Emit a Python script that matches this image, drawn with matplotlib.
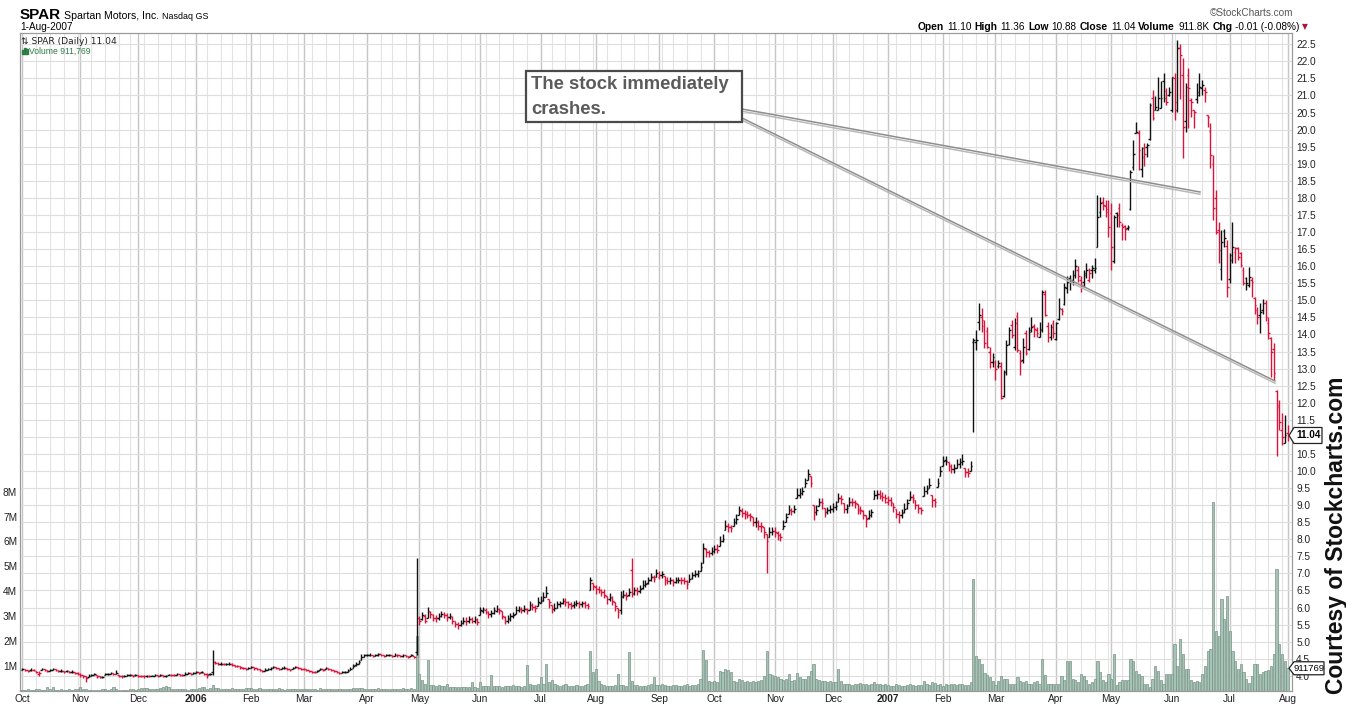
import numpy as np
import pandas as pd
import matplotlib
matplotlib.use("Agg")
import matplotlib.pyplot as plt
from matplotlib.collections import LineCollection
from matplotlib.patches import Polygon, Rectangle

W, H = 1346, 706

# month labels on the x axis
month_labels = ["Oct", "Nov", "Dec", "2006", "Feb", "Mar", "Apr", "May", "Jun", "Jul", "Aug", "Sep",
                "Oct", "Nov", "Dec", "2007", "Feb", "Mar", "Apr", "May", "Jun", "Jul", "Aug"]

holidays = ["2005-11-24", "2005-12-26", "2006-01-02", "2006-01-16", "2006-02-20", "2006-04-14",
            "2006-05-29", "2006-07-04", "2006-09-04", "2006-11-23", "2006-12-25", "2007-01-01",
            "2007-01-02", "2007-01-15", "2007-02-19", "2007-04-06", "2007-05-28", "2007-07-04"]

# daily closes, one row per month
close_m = [
    [4.20, 4.17, 4.15, 4.18, 4.16, 4.12, 4.08, 4.20, 4.18, 4.15, 4.17, 4.20, 4.16, 4.14, 4.15, 4.12, 4.14, 4.10, 4.12, 4.08, 4.05],
    [4.02, 3.98, 3.95, 4.00, 4.02, 4.05, 3.98, 3.96, 3.97, 4.05, 4.06, 4.07, 4.05, 4.09, 4.00, 3.98, 4.00, 4.01, 4.02, 4.00, 4.03],
    [4.00, 3.99, 3.98, 4.00, 3.99, 4.00, 4.01, 4.00, 4.02, 3.99, 4.00, 4.03, 4.02, 4.01, 4.04, 4.03, 4.02, 4.06, 4.07, 4.05, 4.08],
    [4.10, 4.09, 4.11, 4.05, 4.03, 4.06, 4.40, 4.38, 4.35, 4.36, 4.34, 4.35, 4.36, 4.33, 4.30, 4.28, 4.25, 4.22, 4.20, 4.23],
    [4.25, 4.22, 4.20, 4.18, 4.15, 4.18, 4.20, 4.22, 4.25, 4.23, 4.20, 4.22, 4.24, 4.20, 4.18, 4.22, 4.25, 4.23, 4.21],
    [4.20, 4.18, 4.15, 4.12, 4.10, 4.13, 4.20, 4.18, 4.22, 4.20, 4.18, 4.15, 4.10, 4.08, 4.10, 4.12, 4.15, 4.20, 4.30, 4.35, 4.40, 4.55, 4.60],
    [4.60, 4.62, 4.58, 4.60, 4.63, 4.60, 4.58, 4.60, 4.61, 4.59, 4.62, 4.60, 4.57, 4.60, 4.58, 4.55, 4.60, 4.55, 5.70],
    [5.60, 5.78, 5.62, 5.90, 5.80, 5.70, 5.68, 5.75, 5.80, 5.78, 5.72, 5.75, 5.60, 5.52, 5.48, 5.55, 5.62, 5.60, 5.66, 5.62, 5.66, 5.58],
    [5.92, 5.95, 5.88, 5.80, 5.85, 5.92, 5.95, 5.92, 5.75, 5.62, 5.68, 5.75, 5.78, 5.92, 5.95, 5.93, 5.97, 5.92, 6.08, 6.02, 6.00, 6.15],
    [6.22, 6.30, 6.42, 6.15, 5.95, 5.98, 6.10, 6.12, 6.18, 6.15, 6.10, 6.05, 6.10, 6.12, 6.10, 6.12, 6.08, 6.05, 6.80, 6.62],
    [6.55, 6.52, 6.45, 6.38, 6.25, 6.30, 6.20, 6.05, 5.88, 6.32, 6.38, 6.35, 6.45, 6.40, 6.50, 6.48, 6.55, 6.65, 6.70, 6.80, 6.88, 6.85, 7.00],
    [6.95, 6.98, 6.82, 6.78, 6.80, 6.75, 6.80, 6.82, 6.80, 6.78, 6.70, 6.85, 6.95, 6.98, 7.00, 7.18, 7.75, 7.62, 7.60, 7.65],
    [7.72, 7.70, 7.95, 8.02, 8.40, 8.35, 8.32, 8.50, 8.58, 8.85, 8.78, 8.75, 8.72, 8.68, 8.50, 8.52, 8.40, 8.38, 8.20, 7.95, 8.22, 8.25],
    [8.20, 8.12, 8.08, 8.40, 8.65, 8.85, 8.82, 8.88, 9.30, 9.35, 9.40, 9.65, 9.90, 9.65, 8.80, 8.85, 9.10, 9.05, 8.80, 8.85, 8.88],
    [8.95, 8.98, 9.20, 9.18, 8.90, 8.92, 9.10, 9.08, 9.05, 8.88, 8.85, 8.70, 8.60, 8.72, 8.80, 9.30, 9.32, 9.28, 9.25, 9.20],
    [9.15, 9.10, 8.95, 8.75, 8.72, 8.78, 8.90, 9.05, 9.25, 9.20, 9.00, 8.92, 8.85, 9.40, 9.48, 9.60, 9.15, 9.10, 9.65, 10.00],
    [10.30, 10.30, 10.15, 10.05, 10.08, 10.20, 10.25, 10.30, 9.98, 9.95, 10.15, 13.84, 13.84, 14.57, 14.42, 13.74, 13.64, 13.20, 13.35],
    [12.98, 13.15, 12.13, 12.91, 13.69, 14.13, 13.98, 14.33, 13.54, 13.22, 13.64, 13.45, 14.08, 14.23, 14.15, 14.05, 14.13, 15.25, 14.57, 14.05, 14.23, 14.03],
    [14.33, 14.76, 14.70, 15.40, 15.55, 15.55, 15.75, 16.00, 15.70, 15.45, 15.75, 15.89, 15.80, 15.94, 15.94, 17.45, 17.84, 17.79, 17.60, 17.16],
    [16.57, 17.45, 17.50, 17.30, 17.16, 17.10, 17.16, 18.77, 19.30, 19.94, 19.40, 19.45, 19.30, 19.55, 20.72, 20.33, 20.67, 20.92, 20.92, 20.92, 20.82, 21.11],
    [21.53, 20.82, 22.38, 22.20, 20.09, 21.26, 21.21, 20.82, 20.53, 21.11, 21.26, 21.31, 21.11, 20.38, 19.26, 17.69, 17.00, 16.47, 16.72, 16.82, 15.40],
    [16.33, 16.57, 16.52, 16.28, 16.03, 15.50, 15.50, 15.69, 15.55, 14.87, 14.52, 14.67, 14.91, 14.52, 14.03, 13.49, 12.88, 11.88, 11.44, 11.00, 11.05],
    [11.04],
]

# high above close, in cents
high_m = [
    [4, 3, 3, 4, 3, 3, 5, 4, 3, 3, 4, 3, 3, 3, 4, 3, 3, 3, 4, 3, 5],
    [5, 4, 4, 5, 4, 4, 3, 3, 3, 4, 3, 3, 4, 8, 3, 3, 3, 3, 3, 3, 3],
    [3, 2, 3, 3, 2, 3, 3, 2, 3, 3, 2, 3, 4, 3, 3, 2, 3, 4, 3, 3, 4],
    [3, 3, 3, 4, 4, 3, 36, 5, 4, 3, 4, 3, 3, 4, 3, 3, 4, 3, 3, 4],
    [3, 3, 4, 3, 3, 4, 3, 3, 4, 3, 3, 3, 4, 3, 3, 4, 3, 3, 3],
    [3, 3, 3, 3, 4, 3, 4, 3, 4, 3, 3, 3, 4, 3, 3, 3, 4, 5, 6, 5, 6, 8, 5],
    [4, 4, 3, 4, 5, 3, 4, 3, 4, 3, 5, 3, 3, 4, 4, 3, 4, 4, 175],
    [15, 10, 20, 12, 10, 12, 10, 8, 10, 9, 12, 10, 14, 10, 10, 9, 10, 12, 8, 10, 9, 10],
    [10, 8, 12, 10, 8, 10, 12, 8, 15, 12, 10, 8, 10, 12, 10, 8, 10, 8, 12, 10, 8, 15],
    [12, 15, 20, 10, 12, 15, 10, 8, 10, 12, 8, 10, 8, 10, 8, 8, 10, 8, 10, 10],
    [10, 12, 10, 15, 10, 12, 15, 10, 10, 15, 12, 10, 12, 105, 10, 12, 10, 15, 12, 10, 12, 10, 12],
    [12, 10, 10, 12, 8, 10, 10, 8, 10, 12, 10, 12, 10, 12, 10, 15, 15, 12, 10, 12],
    [12, 15, 15, 12, 15, 12, 10, 12, 15, 12, 15, 10, 12, 10, 15, 12, 15, 12, 15, 20, 15, 12],
    [15, 12, 10, 15, 12, 15, 10, 12, 20, 15, 12, 15, 15, 20, 20, 15, 12, 15, 12, 10, 12],
    [12, 15, 15, 12, 15, 12, 15, 12, 10, 15, 12, 15, 12, 15, 10, 15, 12, 15, 12, 12],
    [12, 15, 12, 15, 12, 10, 15, 12, 15, 12, 15, 12, 10, 15, 12, 20, 15, 12, 15, 15],
    [15, 15, 12, 15, 12, 15, 12, 20, 10, 15, 15, 6, 29, 34, 34, 68, 59, 44, 10],
    [27, 10, 107, 5, 15, 10, 44, 14, 113, 32, 25, 68, 15, 29, 17, 18, 24, 5, 73, 32, 9, 39],
    [4, 30, 6, 10, 15, 20, 15, 20, 30, 25, 15, 19, 15, 9, 29, 63, 20, 25, 34, 78],
    [127, 5, 10, 54, 10, 11, 5, 5, 40, 29, 59, 5, 30, 5, 5, 83, 30, 63, 49, 73, 39, 15],
    [2, 83, 25, 30, 200, 10, 59, 10, 5, 25, 39, 14, 15, 5, 92, 157, 123, 83, 34, 28, 137],
    [5, 73, 5, 29, 39, 48, 19, 29, 14, 24, 28, 26, 14, 48, 47, 44, 86, 49, 64, 69, 59],
    [32],
]

# low below close, in cents
low_m = [
    [4, 3, 3, 3, 3, 4, 10, 3, 3, 3, 3, 4, 3, 3, 3, 3, 3, 3, 3, 3, 4],
    [6, 4, 12, 4, 3, 3, 3, 3, 3, 4, 3, 3, 3, 4, 4, 3, 3, 3, 3, 3, 3],
    [3, 2, 3, 3, 3, 2, 3, 3, 2, 3, 3, 2, 3, 3, 3, 3, 2, 3, 3, 4, 3],
    [3, 3, 3, 4, 10, 3, 38, 4, 3, 3, 3, 3, 4, 3, 3, 3, 4, 3, 3, 3],
    [3, 4, 3, 3, 5, 3, 3, 4, 3, 3, 4, 3, 3, 3, 5, 3, 3, 3, 3],
    [3, 3, 4, 4, 3, 3, 3, 3, 3, 3, 4, 3, 3, 3, 3, 3, 3, 4, 6, 5, 5, 10, 5],
    [3, 4, 4, 3, 4, 3, 4, 3, 3, 4, 3, 4, 3, 4, 3, 4, 3, 4, 110],
    [10, 15, 8, 20, 12, 10, 10, 12, 8, 10, 12, 10, 8, 10, 12, 8, 10, 10, 10, 8, 10, 8],
    [15, 10, 8, 10, 12, 10, 8, 10, 8, 10, 12, 15, 10, 10, 8, 10, 10, 12, 15, 10, 12, 10],
    [10, 12, 10, 15, 10, 8, 12, 10, 8, 10, 12, 8, 10, 8, 10, 10, 8, 10, 30, 10],
    [15, 10, 12, 10, 15, 10, 12, 15, 20, 50, 10, 12, 10, 10, 12, 10, 12, 10, 10, 12, 10, 10, 10],
    [10, 12, 15, 10, 10, 12, 8, 10, 10, 8, 15, 10, 12, 10, 10, 12, 45, 15, 12, 10],
    [12, 10, 15, 10, 12, 15, 12, 10, 12, 15, 12, 15, 10, 15, 12, 15, 12, 18, 15, 95, 15, 12],
    [12, 15, 12, 10, 15, 12, 10, 12, 10, 15, 10, 12, 15, 12, 25, 15, 12, 15, 15, 12, 10],
    [15, 12, 10, 15, 12, 15, 12, 10, 12, 15, 12, 10, 25, 12, 15, 12, 15, 10, 12, 15],
    [15, 12, 15, 12, 25, 15, 12, 15, 10, 15, 12, 15, 12, 12, 15, 10, 20, 15, 12, 15],
    [15, 12, 15, 12, 15, 10, 15, 12, 15, 12, 15, 269, 30, 44, 34, 15, 4, 19, 29],
    [32, 14, 3, 73, 88, 44, 9, 79, 5, 41, 49, 5, 54, 15, 22, 12, 20, 117, 2, 26, 39, 14],
    [49, 34, 13, 54, 35, 25, 30, 35, 15, 20, 35, 25, 25, 30, 15, 88, 40, 15, 15, 30],
    [68, 137, 34, 14, 39, 33, 10, 112, 48, 5, 58, 83, 38, 35, 102, 5, 9, 34, 30, 10, 10, 14],
    [100, 54, 185, 130, 93, 132, 117, 44, 49, 34, 29, 29, 29, 29, 39, 34, 5, 39, 113, 25, 30],
    [83, 49, 44, 10, 5, 5, 20, 29, 45, 26, 22, 62, 31, 12, 15, 73, 22, 143, 24, 24, 24],
    [16],
]

# open minus close, in cents
open_m = [
    [-2, 3, 2, -2, 2, 3, -4, -8, 2, 2, -2, -3, 3, 2, -1, 2, -1, 3, -2, 3, 2],
    [3, 4, 3, -4, -2, -3, 5, 2, -1, -6, -1, -1, 2, -3, 6, 2, -2, -1, -1, 2, -2],
    [2, 1, 2, -2, 1, -1, -1, 1, -2, 2, -1, -3, 1, 1, -2, 1, 1, -3, -1, 2, -2],
    [-2, 1, -1, 4, 2, -2, -30, 2, 3, -1, 2, -1, -1, 2, 3, 2, 3, 2, 2, -2],
    [-2, 3, 2, 2, 3, -3, -2, -2, -3, 2, 3, -2, -2, 4, 2, -4, -3, 2, 2],
    [1, 2, 3, 3, 2, -3, -5, 2, -4, 2, 2, 3, 4, 2, -2, -2, -3, -4, -8, -4, -4, -12, -4],
    [1, -2, 4, -2, -3, 3, 2, -2, -1, 2, -3, 2, 3, -3, 2, 3, -4, 4, -100],
    [10, -12, 12, -20, 8, 8, 2, -6, -5, 2, 6, -3, 12, 8, 5, -6, -6, 2, -5, 4, -4, 6],
    [-25, -4, 6, 8, -4, -8, -4, 3, 15, 10, -6, -8, -3, -12, -3, 2, -4, 4, -14, 5, 2, -12],
    [-8, -10, -12, 18, 15, -3, -10, -2, -5, 3, 5, 5, -4, -2, 2, -2, 4, 3, -60, 12],
    [5, 3, 6, 8, 10, -4, 8, 12, 15, -40, -5, 3, -8, 70, -8, 2, -6, -8, -5, -8, -6, 3, -12],
    [-5, -3, 14, 4, -2, 5, -4, -2, 2, 2, 8, -14, -8, -3, -2, -15, -45, 10, 2, -4],
    [-5, 2, -20, -8, -30, 5, 3, -15, -8, -22, 6, 3, 3, 4, 15, -2, 10, 2, 15, 20, -25, -3],
    [5, 6, 4, -30, -20, -18, 3, -5, -35, -5, -5, -20, -22, 20, 70, -5, -22, 4, 20, -4, -2],
    [-5, -3, -20, 2, 25, -2, -15, 2, 3, 15, 2, 12, 10, -10, -8, -45, -2, 4, 3, 5],
    [-5, 5, 12, 18, 3, -6, -10, -14, -18, 5, 18, 8, 6, -50, -8, -10, 40, 5, -50, -30],
    [-25, 2, 12, 10, -3, -10, -5, -5, 25, 3, -20, -5, -5, -20, 8, 50, 45, 30, -15],
    [20, -8, 95, -70, -80, -40, 30, -70, 100, 25, -40, 60, -50, -10, 10, 8, -20, -110, 60, 20, -30, 30],
    [-45, -30, 5, -50, -20, 10, -15, -25, 20, 15, -20, -10, -20, -5, -5, -150, -25, 10, 15, 50],
    [100, -130, 5, 40, 5, 8, -4, -110, -40, -5, 50, -60, -10, -5, -100, 60, -20, -40, -30, 50, 30, -10],
    [-95, 70, -180, 20, 150, -100, 40, 5, 5, -20, -25, -10, 5, 5, 70, 130, 100, 60, -80, 20, 120],
    [-70, -40, -10, 25, 35, 40, 15, -25, 5, 20, 20, -10, -20, 40, 30, 40, 70, 45, 50, 20, -30],
    [6],
]

# daily volume, thousands of shares
vol_m = [
    [60, 50, 70, 60, 50, 90, 80, 60, 60, 170, 80, 150, 60, 60, 70, 60, 50, 70, 60, 80, 90],
    [150, 90, 80, 60, 50, 60, 50, 60, 80, 70, 60, 90, 160, 70, 50, 60, 50, 60, 70, 80, 60],
    [90, 110, 120, 110, 90, 100, 70, 80, 120, 180, 190, 150, 90, 80, 100, 70, 80, 90, 60, 70, 80],
    [100, 130, 150, 170, 90, 110, 230, 140, 110, 100, 90, 70, 80, 110, 100, 90, 80, 70, 110, 130],
    [120, 100, 90, 110, 80, 70, 90, 100, 80, 70, 110, 90, 60, 70, 90, 100, 70, 80, 90],
    [80, 70, 80, 90, 70, 60, 110, 70, 80, 70, 90, 80, 70, 80, 70, 90, 80, 100, 140, 120, 110, 130, 90],
    [90, 80, 70, 100, 110, 70, 90, 80, 90, 70, 100, 80, 70, 120, 90, 80, 110, 100, 2200],
    [700, 450, 300, 1250, 250, 230, 200, 250, 220, 200, 300, 180, 170, 160, 150, 180, 150, 170, 160, 380, 150, 140],
    [380, 200, 210, 190, 640, 220, 200, 190, 180, 200, 210, 190, 230, 220, 200, 180, 210, 1050, 280, 230, 250, 300],
    [580, 300, 1100, 350, 450, 280, 230, 220, 250, 300, 200, 210, 190, 230, 220, 200, 250, 300, 1620, 780],
    [900, 400, 300, 250, 200, 220, 210, 230, 700, 230, 250, 210, 1550, 400, 250, 230, 220, 200, 210, 240, 300, 580, 230],
    [250, 300, 250, 220, 210, 230, 250, 200, 210, 230, 300, 220, 250, 260, 280, 500, 1650, 1250, 400, 350],
    [400, 350, 800, 750, 900, 850, 780, 400, 350, 500, 450, 380, 400, 350, 420, 380, 400, 450, 600, 1600, 700, 650],
    [600, 550, 500, 450, 500, 700, 400, 450, 710, 550, 500, 500, 600, 800, 1100, 500, 450, 400, 400, 350, 400],
    [350, 350, 900, 400, 300, 280, 300, 260, 280, 300, 320, 280, 300, 260, 280, 350, 300, 270, 250, 280],
    [250, 220, 200, 300, 250, 220, 200, 260, 280, 240, 220, 250, 230, 400, 300, 260, 350, 320, 260, 300],
    [220, 300, 250, 280, 300, 250, 280, 300, 250, 260, 350, 4500, 1400, 1300, 1100, 720, 640, 580, 400],
    [250, 400, 600, 500, 500, 280, 280, 300, 580, 400, 350, 400, 300, 280, 350, 400, 300, 1300, 640, 300, 280, 280],
    [280, 300, 600, 450, 1200, 1200, 500, 450, 350, 700, 600, 450, 280, 350, 500, 1200, 780, 450, 350, 700],
    [500, 1500, 250, 350, 450, 450, 450, 1300, 1200, 800, 700, 600, 280, 300, 150, 500, 1000, 800, 450, 280, 700, 700],
    [700, 1900, 1000, 2100, 1500, 900, 900, 450, 350, 400, 350, 700, 1000, 1600, 1700, 7600, 2400, 2200, 3700, 2900, 3800],
    [2400, 1600, 1200, 900, 1100, 750, 500, 340, 600, 1100, 1100, 700, 750, 800, 850, 1000, 1500, 4900, 1900, 1500, 1200],
    [912],
]

for name, rows in [("high", high_m), ("low", low_m), ("open", open_m), ("vol", vol_m)]:
    for k, (a, b) in enumerate(zip(close_m, rows)):
        assert len(a) == len(b), (name, k, len(a), len(b))

close = np.array([v for m in close_m for v in m])
high = close + np.array([v for m in high_m for v in m]) / 100.0
low = close - np.array([v for m in low_m for v in m]) / 100.0
opn = np.clip(close + np.array([v for m in open_m for v in m]) / 100.0, low, high)
vol = np.array([v for m in vol_m for v in m]) * 1000.0
n = len(close)
xs = np.arange(n)

dates = pd.bdate_range("2005-10-03", "2007-08-01")
dates = dates[~dates.isin(pd.to_datetime(holidays))]
assert len(dates) == n, (len(dates), n)

month_starts = np.cumsum([0] + [len(m) for m in close_m[:-1]])
week_starts = [i for i in range(n) if i == 0 or dates[i].weekday() < dates[i - 1].weekday()]

PMIN, PMAX = 3.555, 22.83
VMAX = 26.4e6
XMIN, XMAX = -0.9, 460.6

fig = plt.figure(figsize=(W / 100, H / 100), dpi=100)
fig.patch.set_facecolor("white")
ax_v = fig.add_axes([20 / W, (H - 691) / H, (1292 - 20) / W, (691 - 33) / H])
ax_v.set_xlim(XMIN, XMAX)
ax_v.set_ylim(0, VMAX)

# grid: weekly verticals, monthly darker, price levels horizontally
for i in week_starts:
    ax_v.axvline(i, color="#e3e3e3", lw=0.8, zorder=0)
for i in month_starts:
    ax_v.axvline(i, color="#c6c6c6", lw=1.0, zorder=0)
for p in np.arange(4.0, 22.51, 0.5):
    ax_v.axhline((p - PMIN) / (PMAX - PMIN) * VMAX, color="#dedede", lw=0.8, zorder=0)

ax_v.bar(xs, vol, width=0.8, color="#a6c4b6", edgecolor="#789486", linewidth=0.5, zorder=2)

ax_v.set_yticks(np.arange(1, 9) * 1e6)
ax_v.set_yticklabels([f"{k}M" for k in range(1, 9)])
ax_v.set_xticks(month_starts)
ax_v.set_xticklabels(month_labels)
for lab in ax_v.get_xticklabels():
    if lab.get_text() in ("2006", "2007"):
        lab.set_fontweight("bold")
ax_v.tick_params(axis="both", length=0, labelsize=7.3, colors="#222222", pad=2)
for lab in ax_v.get_xticklabels() + ax_v.get_yticklabels():
    lab.set_fontfamily("Liberation Sans")

ax_p = ax_v.twinx()
ax_p.set_ylim(PMIN, PMAX)
ax_p.set_xlim(XMIN, XMAX)
ax_p.yaxis.tick_right()
price_ticks = np.arange(4.0, 22.51, 0.5)
ax_p.set_yticks(price_ticks)
# the 11.0 level sits under the last-price marker
ax_p.set_yticklabels(["" if abs(p - 11.0) < 1e-6 else f"{p:.1f}" for p in price_ticks])
ax_p.tick_params(axis="y", length=0, labelsize=7.3, colors="#222222", pad=3)
for lab in ax_p.get_yticklabels():
    lab.set_fontfamily("Liberation Sans")

for a in (ax_v, ax_p):
    for s in a.spines.values():
        s.set_color("#9a9a9a")
        s.set_linewidth(0.8)

# OHLC bars, red when close is below the prior close
prev = np.concatenate([[opn[0]], close[:-1]])
cols = np.where(close < prev, "#dc143c", "#111111")
tick = 0.6
segs, seg_cols = [], []
for i in range(n):
    segs.append([(i, low[i]), (i, high[i])])
    segs.append([(i - tick, opn[i]), (i, opn[i])])
    segs.append([(i, close[i]), (i + tick, close[i])])
    seg_cols += [cols[i]] * 3
ax_p.add_collection(LineCollection(segs, colors=seg_cols, linewidths=1.0, zorder=3))


def px(x, y):
    return x / W, 1 - y / H


renderer = fig.canvas.get_renderer()


def chain(x, y, parts):
    for txt, kw in parts:
        t = fig.text(*px(x, y), txt, ha="left", va="baseline", **kw)
        bb = t.get_window_extent(renderer=renderer)
        x = bb.x1 + 3
    return x


# header
chain(20, 19, [("SPAR", dict(fontsize=11, fontweight="bold", family="Liberation Sans")),
               ("Spartan Motors, Inc.", dict(fontsize=7.6, family="Liberation Sans")),
               ("Nasdaq GS", dict(fontsize=6.4, family="Liberation Sans"))])
fig.text(*px(20, 29.5), "1-Aug-2007", fontsize=7.2, family="Liberation Sans", ha="left", va="baseline")
fig.text(*px(1293, 16), "\u00a9StockCharts.com", fontsize=7.2, family="Liberation Sans",
         color="#555555", ha="right", va="baseline")

bold = dict(fontsize=7.4, fontweight="bold", family="Liberation Sans")
reg = dict(fontsize=7.2, family="Liberation Sans")
x = chain(918, 29.5, [("Open", bold), ("11.10", reg), ("High", bold), ("11.36", reg), ("Low", bold),
                      ("10.88", reg), ("Close", bold), ("11.04", reg), ("Volume", bold), ("911.8K", reg),
                      ("Chg", bold), ("-0.01 (-0.08%)", reg)])
fig.text(*px(x - 1, 29.5), "\u25bc", fontsize=5.5, color="#b0103a", ha="left", va="baseline",
         family="DejaVu Sans")

fig.text(*px(21, 44.5), "\u21c5 SPAR (Daily) 11.04", fontsize=6.6, family="DejaVu Sans",
         ha="left", va="baseline", color="#222222")
for k, hgt in enumerate([4, 6, 5]):
    fig.patches.append(Rectangle(px(22 + k * 2.2, 54), 1.6 / W, hgt / H, transform=fig.transFigure,
                                 color="#2e7d46"))
fig.text(*px(29, 54), "Volume 911,769", fontsize=6.2, family="Liberation Sans",
         ha="left", va="baseline", color="#2e7d46")

# annotation box and its pointer lines
fig.patches.append(Rectangle(px(526, 122), (742 - 526) / W, (122 - 71) / H, transform=fig.transFigure,
                             facecolor="white", edgecolor="#4a4a4a", linewidth=1.6, zorder=5))
fig.text(*px(531, 89), "The stock immediately", fontsize=13.3, fontweight="bold",
         family="Liberation Sans", color="#5b5b5b", ha="left", va="baseline", zorder=6)
fig.text(*px(531, 114), "crashes.", fontsize=13.3, fontweight="bold",
         family="Liberation Sans", color="#5b5b5b", ha="left", va="baseline", zorder=6)
for (x0, y0, x1, y1) in [(742, 109, 1200, 192), (742, 118, 1275, 381)]:
    for off, col in [(0, "#8e8e8e"), (2.2, "#b9b9b9")]:
        fig.add_artist(plt.Line2D([x0 / W, x1 / W], [1 - (y0 + off) / H, 1 - (y1 + off) / H],
                                  transform=fig.transFigure, color=col, lw=1.1, zorder=4))

# last value markers on the right
fig.canvas.draw()
yp = H - ax_p.transData.transform((0, close[-1]))[1]
yv = H - ax_v.transData.transform((0, vol[-1]))[1]
for (yc, txt, wbox, hh, fw) in [(yp, "11.04", 33, 8, "bold"), (yv, "911769", 35, 6.5, "normal")]:
    pts = [(1289, yc), (1294, yc - hh), (1289 + wbox, yc - hh), (1289 + wbox, yc + hh), (1294, yc + hh)]
    fig.patches.append(Polygon([px(a, b) for a, b in pts], closed=True, transform=fig.transFigure,
                               facecolor="white", edgecolor="#222222", linewidth=0.9, zorder=6))
    fig.text(*px(1292 + wbox / 2, yc), txt, fontsize=7.2 if fw == "bold" else 6.8, fontweight=fw,
             family="Liberation Sans", ha="center", va="center", zorder=7)

fig.text(*px(1336, 535), "Courtesy of Stockcharts.com", rotation=90, fontsize=16.5, fontweight="bold",
         family="Liberation Sans", ha="center", va="center", color="#111111")

fig.savefig("out.png", dpi=100)
